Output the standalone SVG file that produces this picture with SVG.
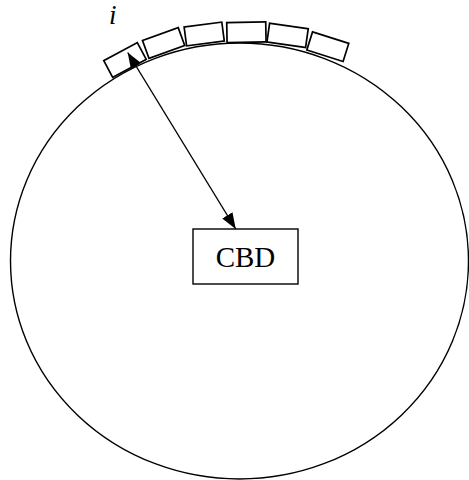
<svg xmlns="http://www.w3.org/2000/svg" width="469" height="480" viewBox="0 0 469 480">
<style>
.line{fill:none;stroke:#000;stroke-width:1.4}
.cell{fill:#fff;stroke:#000;stroke-width:1.7}
.lbl{font-family:"Liberation Serif","Times New Roman",serif;fill:#000}
</style>
<defs>
<marker id="ah" viewBox="0 0 16 12" refX="16" refY="6" markerWidth="16" markerHeight="12" markerUnits="userSpaceOnUse" orient="auto-start-reverse">
<path d="M0,0 L16,6 L0,12 Z" fill="#000"/>
</marker>
</defs>
<rect width="469" height="480" fill="#fff"/>
<g id="city"><ellipse class="line" cx="239.5" cy="261" rx="229" ry="218"/></g>
<g id="cells">
<rect class="cell" x="-19" y="-9.5" width="38" height="19" transform="translate(125,60) rotate(-28)"/>
<rect class="cell" x="-19" y="-9.5" width="38" height="19" transform="translate(163.6,43) rotate(-20)"/>
<rect class="cell" x="-19" y="-9.5" width="38" height="19" transform="translate(204.2,34) rotate(-7.5)"/>
<rect class="cell" x="-19.5" y="-10" width="39" height="20" transform="translate(246.4,32.2) rotate(-1)"/>
<rect class="cell" x="-19.5" y="-9.5" width="39" height="19" transform="translate(287.6,35.4) rotate(8)"/>
<rect class="cell" x="-19" y="-9.5" width="38" height="19" transform="translate(327.8,46.7) rotate(17.5)"/>
</g>
<g id="label-i"><text class="lbl" x="109" y="24" font-size="27" font-style="italic">i</text></g>
<g id="cbd">
<rect x="193" y="229" width="105" height="55" fill="#fff" stroke="#000" stroke-width="1.4"/>
<text class="lbl" x="245.5" y="267" font-size="29" text-anchor="middle">CBD</text>
</g>
<g id="connectors">
<line class="line" x1="127.7" y1="52.5" x2="235.7" y2="229" marker-start="url(#ah)" marker-end="url(#ah)"/>
</g>
</svg>
